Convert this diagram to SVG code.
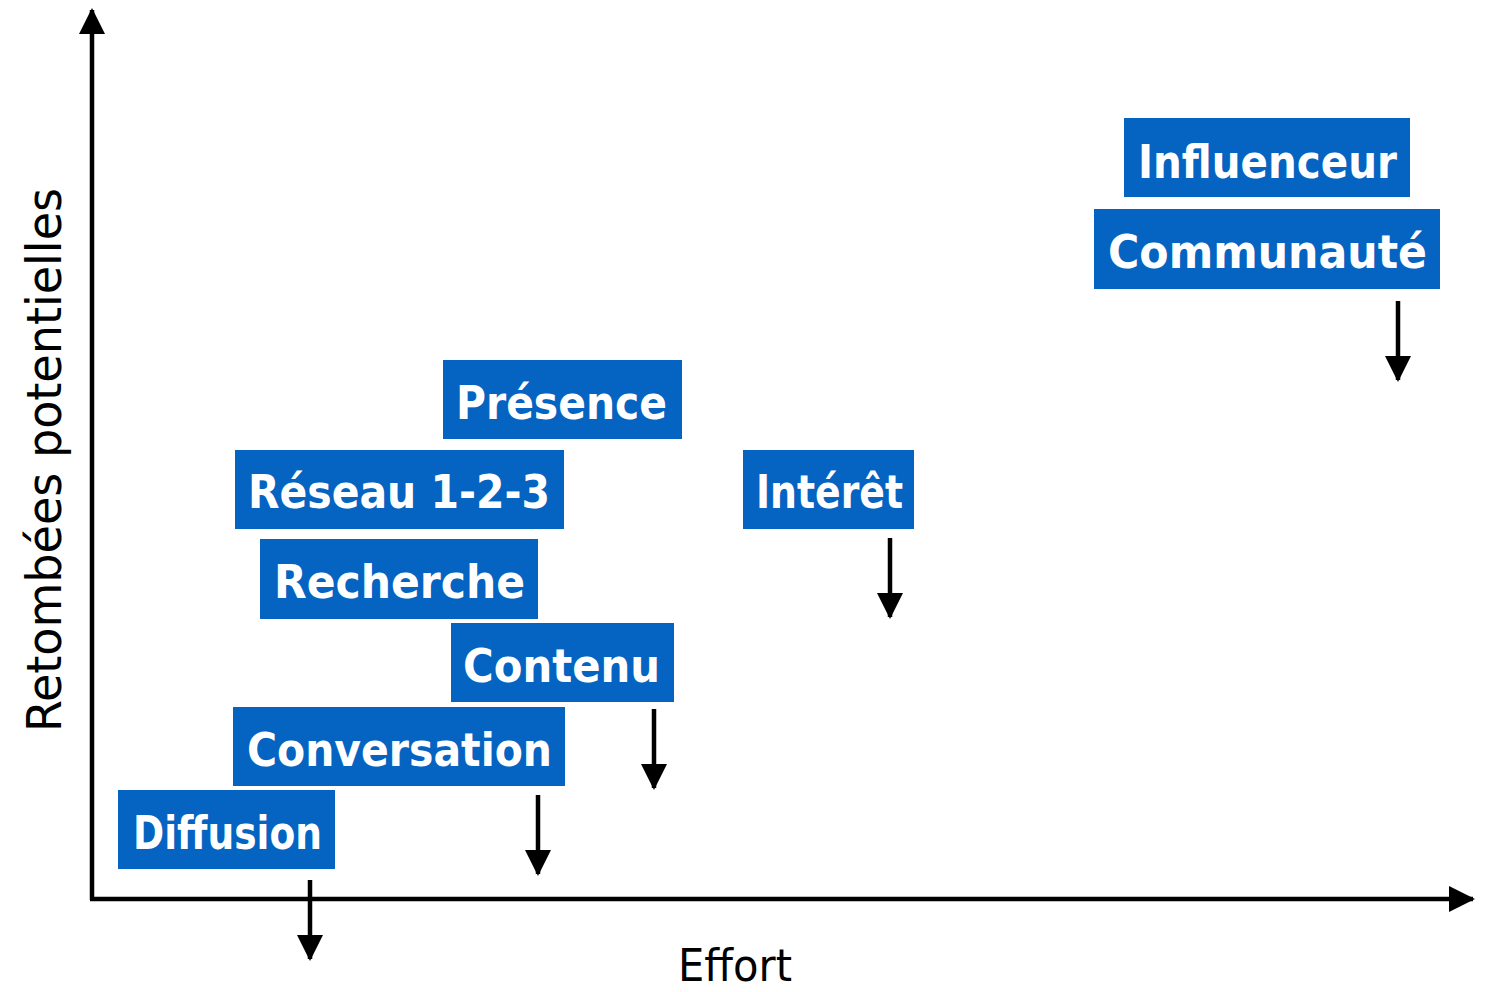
<svg xmlns="http://www.w3.org/2000/svg" width="1485" height="992" viewBox="0 0 1485 992">
<style>
.box{fill:#0563C1}
.lbl{fill:#fff;font-family:"DejaVu Sans","Liberation Sans",sans-serif;font-weight:bold;font-size:46px;text-anchor:start}
.axl{fill:#000;font-family:"DejaVu Sans","Liberation Sans",sans-serif;font-size:48px}
.ln{stroke:#000;stroke-width:4.5;fill:none}
</style>
<defs>
<marker id="ah" markerUnits="userSpaceOnUse" markerWidth="26" markerHeight="26" refX="24" refY="13" orient="auto" viewBox="0 0 26 26">
<path d="M0,0 L26,13 L0,26 Z" fill="#000"/>
</marker>
</defs>
<rect width="1485" height="992" fill="#fff"/>
<g id="axes">
<line class="ln" x1="92" y1="900" x2="92" y2="10" marker-end="url(#ah)"/>
<line class="ln" x1="90" y1="899" x2="1473" y2="899" marker-end="url(#ah)"/>
<text class="axl" x="678" y="981" style="font-size:45px" textLength="114" lengthAdjust="spacingAndGlyphs">Effort</text>
<text class="axl" transform="translate(61,732) rotate(-90)" textLength="544" lengthAdjust="spacingAndGlyphs">Retombées potentielles</text>
</g>
<g id="n-influenceur"><rect class="box" x="1124" y="118" width="286" height="79"/><text class="lbl" x="1138" y="178" textLength="259" lengthAdjust="spacingAndGlyphs">Influenceur</text></g>
<g id="n-communaute"><rect class="box" x="1094" y="209" width="346" height="80"/><text class="lbl" x="1108" y="268" textLength="319" lengthAdjust="spacingAndGlyphs">Communauté</text></g>
<g id="n-presence"><rect class="box" x="443" y="360" width="239" height="79"/><text class="lbl" x="456" y="419" textLength="211" lengthAdjust="spacingAndGlyphs">Présence</text></g>
<g id="n-reseau"><rect class="box" x="235" y="450" width="329" height="79"/><text class="lbl" x="248" y="508" textLength="302" lengthAdjust="spacingAndGlyphs">Réseau 1-2-3</text></g>
<g id="n-interet"><rect class="box" x="743" y="450" width="171" height="79"/><text class="lbl" x="756" y="508" textLength="147" lengthAdjust="spacingAndGlyphs">Intérêt</text></g>
<g id="n-recherche"><rect class="box" x="260" y="539" width="278" height="80"/><text class="lbl" x="274" y="598" textLength="251" lengthAdjust="spacingAndGlyphs">Recherche</text></g>
<g id="n-contenu"><rect class="box" x="451" y="623" width="223" height="79"/><text class="lbl" x="463" y="682" textLength="197" lengthAdjust="spacingAndGlyphs">Contenu</text></g>
<g id="n-conversation"><rect class="box" x="233" y="707" width="332" height="79"/><text class="lbl" x="247" y="766" textLength="305" lengthAdjust="spacingAndGlyphs">Conversation</text></g>
<g id="n-diffusion"><rect class="box" x="118" y="790" width="217" height="79"/><text class="lbl" x="133" y="849" textLength="189" lengthAdjust="spacingAndGlyphs">Diffusion</text></g>
<g id="connectors">
<line class="ln" x1="1398" y1="301" x2="1398" y2="380" marker-end="url(#ah)"/>
<line class="ln" x1="890" y1="538" x2="890" y2="617" marker-end="url(#ah)"/>
<line class="ln" x1="654" y1="709" x2="654" y2="788" marker-end="url(#ah)"/>
<line class="ln" x1="538" y1="795" x2="538" y2="874" marker-end="url(#ah)"/>
<line class="ln" x1="310" y1="880" x2="310" y2="959" marker-end="url(#ah)"/>
</g>
</svg>
